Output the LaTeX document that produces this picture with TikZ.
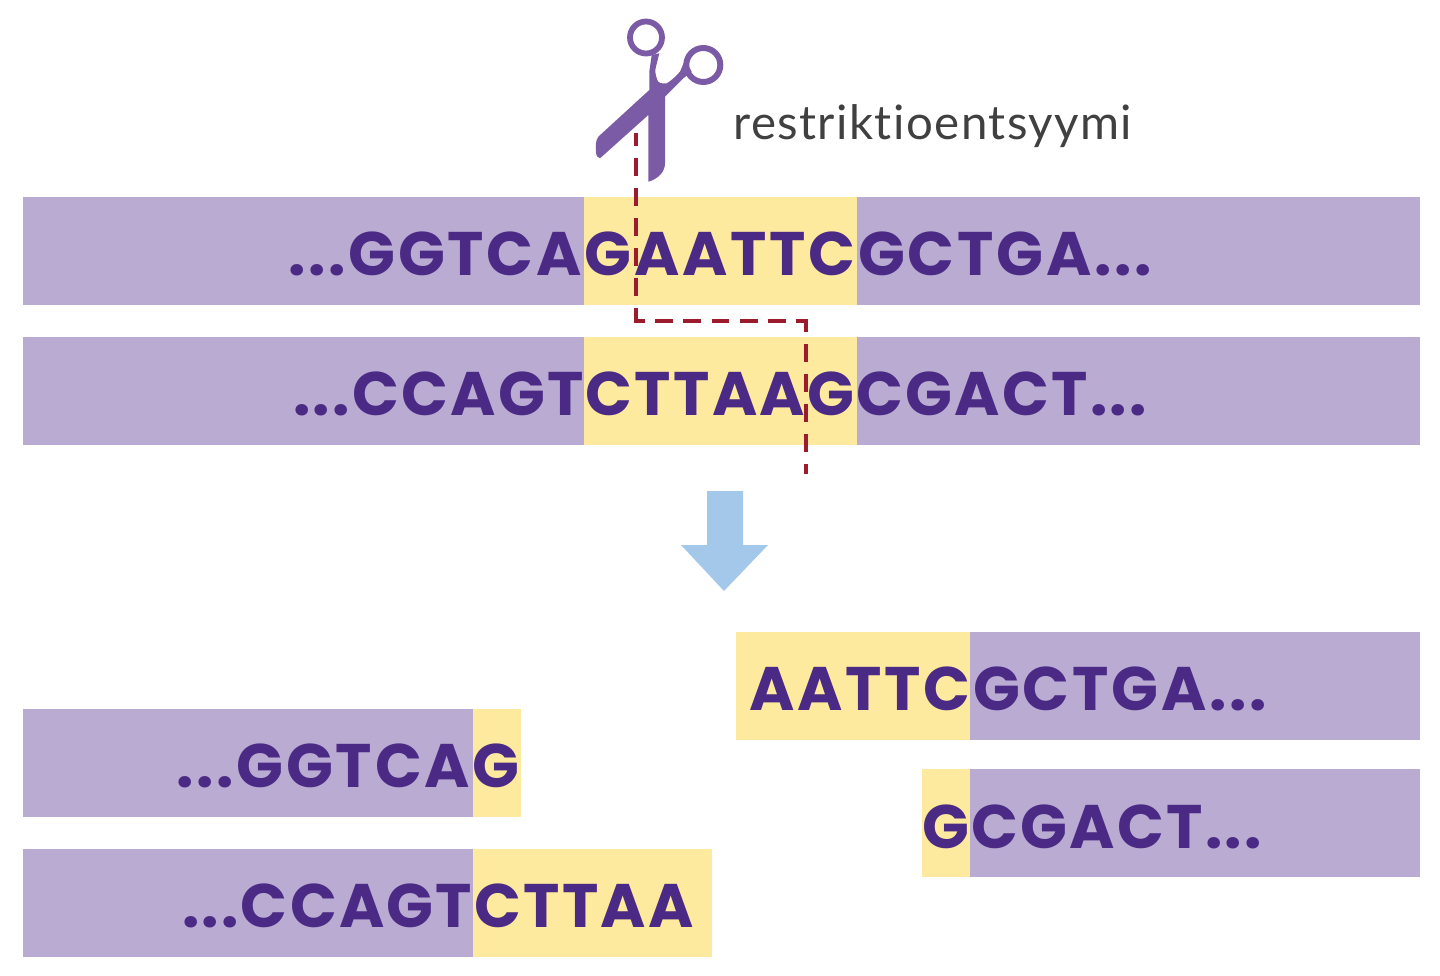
\documentclass[tikz,border=0pt]{standalone}
\usepackage{fontspec}
\usepackage{xcolor}
\setmainfont{Poppins}[LetterSpace=4.5]
\newfontfamily\labelfont{Lato}[LetterSpace=3.0, Ligatures=NoCommon]
\usetikzlibrary{positioning}
\definecolor{barpurple}{HTML}{B9ABD2}
\definecolor{baryellow}{HTML}{FEEA9E}
\definecolor{seqpurple}{HTML}{4B2A85}
\definecolor{cutred}{HTML}{9C1C2E}
\definecolor{arrowblue}{HTML}{A4C8EA}
\definecolor{toolpurple}{HTML}{7B5BA6}
\tikzset{
    purplebar/.style={fill=barpurple, inner sep=0, anchor=north west, minimum height=1.08*2cm},
    yellowbar/.style={fill=baryellow, inner sep=0, anchor=north west, minimum height=1.08*2cm},
    seq/.style={text=seqpurple, inner sep=0, anchor=base, font=\fontsize{35}{35}\selectfont\bfseries},
    seqtight/.style={seq, font=\fontsize{35}{35}\selectfont\bfseries\addfontfeatures{LetterSpace=3.7}},
    cutvert/.style={draw=cutred, line width=2.8pt, line cap=rect, dash pattern=on 7.2pt off 9.9pt, dash phase=2.6pt},
    cuthoriz/.style={draw=cutred, line width=2.8pt, line cap=rect, dash pattern=on 7.4pt off 8.7pt, dash phase=3.9pt},
}
\begin{document}
\begin{tikzpicture}[x=0.02cm, y=0.02cm]
    \useasboundingbox (0, 0) rectangle (1440, -976);
    % upper pair
    \node[purplebar, minimum width=28cm-0.06cm] (topbar) at (23, -197) {};
    \node[yellowbar, minimum width=5.46cm] (topsite) at (584, -197) {};
    \node[purplebar, minimum width=28cm-0.06cm] (lowbar) at (23, -337) {};
    \node[yellowbar, minimum width=5.46cm] (lowsite) at (584, -337) {};
    \node[seq] (topseq) at (720, -276) {...GGTCAGAATTCGCTGA...};
    \node[seqtight] (lowseq) at (720, -416) {...CCAGTCTTAAGCGACT...};
    % left pieces
    \node[purplebar, minimum width=9cm] (leftbara) at (23, -709) {};
    \node[yellowbar, minimum width=0.96cm] (leftsitea) at (473, -709) {};
    \node[purplebar, minimum width=9cm] (leftbarb) at (23, -849) {};
    \node[yellowbar, minimum width=4.78cm] (leftsiteb) at (473, -849) {};
    \node[seq] (leftseqa) at (348, -787) {...GGTCAG};
    \node[seqtight] (leftseqb) at (438, -927) {...CCAGTCTTAA};
    % right pieces
    \node[yellowbar, minimum width=4.68cm] (rightsitea) at (736, -632) {};
    \node[purplebar, minimum width=9cm] (rightbara) at (970, -632) {};
    \node[yellowbar, minimum width=0.96cm] (rightsiteb) at (922, -769) {};
    \node[purplebar, minimum width=9cm] (rightbarb) at (970, -769) {};
    \node[seq] (rightseqa) at (1008, -710) {AATTCGCTGA...};
    \node[seqtight] (rightseqb) at (1092, -848) {GCGACT...};
    % scissors
    \fill[toolpurple] (649.3, -90) -- (598.3, -136.7) .. controls (595, -141) and (596, -147) .. (596, -151.7)
        .. controls (596, -156) and (598, -158) .. (600, -158.3) -- (648.3, -115) -- (648.3, -181.7)
        .. controls (658, -179) and (665, -172) .. (665, -163.3) -- (665, -96.7) -- (683.3, -78.3) -- (691.7, -71.7)
        -- (685, -60) -- (680, -71.7) .. controls (675, -77) and (671, -81) .. (666.7, -83.3)
        .. controls (662, -84) and (658, -83) .. (657.3, -80) .. controls (655, -74) and (655, -70) .. (656, -66.7)
        -- (659.3, -53.3) -- (651.7, -55) -- (649.3, -71.7) -- cycle;
    \draw[toolpurple, line width=3.3pt] (646, -37.5) circle (16);
    \draw[toolpurple, line width=3.4pt] (703.3, -65) circle (17);
    \node[text=black!75, inner sep=0, anchor=base west, font=\labelfont\fontsize{27}{27}\selectfont] (toollabel) at (733, -140) {restriktioentsyymi};
    % cut
    \coordinate (cuttop) at (636, -135);
    \coordinate (cutcornera) at (636, -321);
    \coordinate (cutcornerb) at (806, -321);
    \coordinate (cutend) at (806, -472);
    \draw[cutvert] (cuttop) -- (cutcornera);
    \draw[cuthoriz] (cutcornera) -- (cutcornerb);
    \draw[cutvert] (cutcornerb) -- (cutend);
    % arrow
    \fill[arrowblue] (707, -491) -- (743, -491) -- (743, -545) -- (768, -545) -- (724, -591) -- (681, -545) -- (707, -545) -- cycle;
\end{tikzpicture}
\end{document}
